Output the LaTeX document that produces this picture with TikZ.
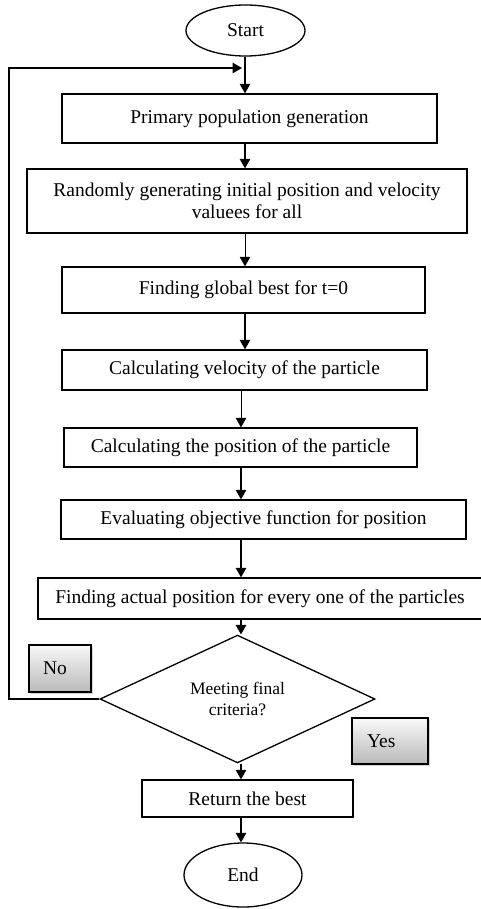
\documentclass[tikz,border=0pt]{standalone}
\usepackage{fontspec}
\setmainfont{Liberation Serif}
\usetikzlibrary{shapes,arrows.meta,positioning,shadows,calc}

\begin{document}
\begin{tikzpicture}[
			x = 1pt, y = -1pt,
			every node/.style = {font = \fontsize{19.5}{22}\selectfont},
			stepbox/.style = {draw, line width = 1.3pt, inner sep = 0pt, align = center},
			term/.style = {draw, ellipse, line width = 1.3pt, inner sep = 0pt},
			decide/.style = {draw, diamond, line width = 1.3pt, inner sep = 0pt, align = center,
				font = \fontsize{17.5}{20.5}\selectfont},
			answer/.style = {draw, line width = 1.2pt, inner ysep = 0pt, align = left,
				top color = white!95!gray, bottom color = gray!55,
				drop shadow = {shadow xshift = 2pt, shadow yshift = -2pt, opacity = 0.35}},
			arr/.style = {-{Triangle[length = 9.5pt, width = 10.5pt]}, line width = 1.4pt},
			thin/.style = {line width = 0.7pt}
			]

			\useasboundingbox (0,0) rectangle (481,909);

			% terminals
			\node[term, minimum width = 119pt, minimum height = 51pt] (start) at (245.5,30.5) {Start};
			\node[term, minimum width = 118pt, minimum height = 64pt] (end) at (243,875) {End};

			% process steps
			\foreach \nm/\cx/\cy/\w/\h/\txt in {
				prim/249.5/118.5/375/49/{Primary population generation},
				rand/247/201/440/64/{Randomly generating initial position and velocity\\valuees for all},
				glob/243.5/290/363/46/{Finding global best for t=0},
				vel/244.5/370/365/40/{Calculating velocity of the particle},
				pos/240.5/447.5/353/39/{Calculating the position of the particle},
				eval/263.5/519.5/405/39/{Evaluating objective function for position},
				act/260/598.5/444/41/{Finding actual position for every one of the particles},
				ret/247.5/798.5/211/37/{Return the best}}{
				\node[stepbox, minimum width = \w pt, minimum height = \h pt] (\nm) at (\cx,\cy) {\txt};
			}

			\node[decide, minimum width = 275pt, minimum height = 106pt] (crit) at (237.5,699) {Meeting final\\criteria?};

			\node[answer, minimum width = 62pt, minimum height = 47pt, inner xsep = 14pt, text width = 34pt] (no) at (60,668.5) {No};
			\node[answer, minimum width = 76pt, minimum height = 46pt, inner xsep = 15pt, text width = 46pt] (yes) at (390,741) {Yes};

			% flow axis and loop corner
			\coordinate (axU) at (245,0);
			\coordinate (axL) at (241,0);
			\coordinate (corner) at (9,68);
			\coordinate (join) at (242,68);

			\foreach \a/\b/\ax/\s in {start/prim/axU/arr, prim/rand/axU/arr, rand/glob/axU/thin,
				glob/vel/axU/arr, vel/pos/axL/thin, pos/eval/axL/arr, eval/act/axL/arr,
				act/crit/axL/arr, crit/ret/axL/arr, ret/end/axL/arr}{
				\draw[arr, \s] (\a.south -| \ax) -- (\b.north -| \ax);
			}

			\draw[arr] (crit.west) -| (corner) -- (join);

		\end{tikzpicture}
\end{document}
